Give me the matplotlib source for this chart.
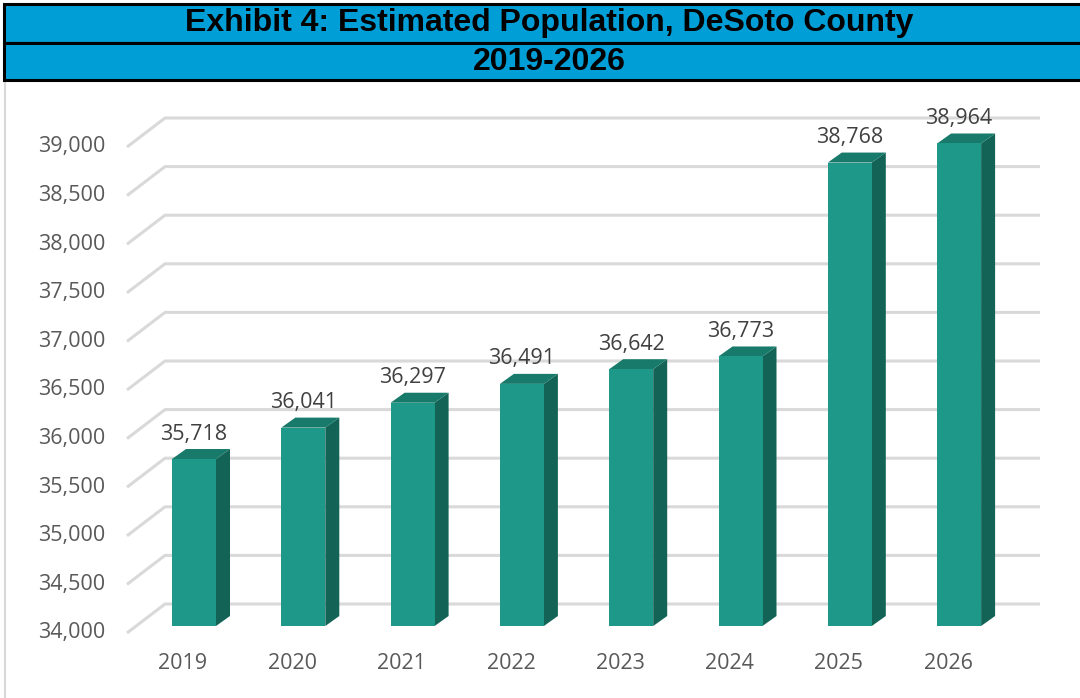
import matplotlib.pyplot as plt
from matplotlib.patches import Polygon, Rectangle

years = ['2019', '2020', '2021', '2022', '2023', '2024', '2025', '2026']
population = [35718, 36041, 36297, 36491, 36642, 36773, 38768, 38964]
y_ticks = [34000, 34500, 35000, 35500, 36000, 36500, 37000, 37500, 38000, 38500, 39000]

title_line1 = 'Exhibit 4: Estimated Population, DeSoto County'
title_line2 = '2019-2026'

FRONT = '#1e9888'
TOP = '#187a6a'
SIDE = '#136457'
GRID = '#d9d9d9'
BLUE = '#009ed6'

W, H = 1080, 698
fig = plt.figure(figsize=(W / 100, H / 100), dpi=100)

# pixel geometry of the plotting plane (bar fronts)
px_per_cat = 109.3
px_per_val = 486 / 5000
x0_px = 194          # centre of first bar
base_px = 626        # y of 34,000 on the bar front plane
ax_l, ax_r, ax_t, ax_b = 100, 1060, 95, 690

ax = fig.add_axes([ax_l / W, 1 - ax_b / H, (ax_r - ax_l) / W, (ax_b - ax_t) / H])
ax.set_xlim((ax_l - x0_px) / px_per_cat, (ax_r - x0_px) / px_per_cat)
ax.set_ylim(34000 - (ax_b - base_px) / px_per_val, 34000 + (base_px - ax_t) / px_per_val)
ax.axis('off')


def dx(px):
    return px / px_per_cat


def dy(px):
    # positive px = upward on screen
    return px / px_per_val


# gridlines: short oblique on the side wall, then along the back wall
x_front = dx(127 - x0_px)
x_back = dx(165 - x0_px)
x_end = dx(1040 - x0_px)
for v in y_ticks:
    ax.plot([x_front, x_back, x_end], [v - dy(7), v + dy(22), v + dy(22)],
            color=GRID, lw=2.2, solid_capstyle='butt', zorder=1)
    ax.text(x_front - dx(22), v - dy(7), f'{v:,}', ha='right', va='center',
            fontsize=15.5, color='#595959', family=['Open Sans', 'DejaVu Sans'])

# 3D-ish bars
half = dx(22)
ddx, ddy = dx(14), dy(10)
base = 34000
for i, v in enumerate(population):
    xl, xr = i - half, i + half
    ax.add_patch(Polygon([(xr, base), (xr, v), (xr + ddx, v + ddy), (xr + ddx, base + ddy)],
                         closed=True, facecolor=SIDE, edgecolor='none', zorder=3))
    ax.add_patch(Polygon([(xl, v), (xr, v), (xr + ddx, v + ddy), (xl + ddx, v + ddy)],
                         closed=True, facecolor=TOP, edgecolor='none', zorder=3))
    ax.add_patch(Rectangle((xl, base), 2 * half, v - base,
                           facecolor=FRONT, edgecolor='none', zorder=4))
    ax.text(i, v + dy(25), f'{v:,}', ha='center', va='center', fontsize=15.5,
            color='#404040', family=['Open Sans', 'DejaVu Sans'], zorder=5)
    ax.text(i - dx(11), base - dy(38), years[i], ha='center', va='center',
            fontsize=15.5, color='#595959', family=['Open Sans', 'DejaVu Sans'])

# chart area border
fig.patches.append(Rectangle((5 / W, -0.01), 1.1, 1 - 81 / H + 0.01,
                             transform=fig.transFigure, facecolor='none',
                             edgecolor=GRID, lw=1.5))

# title block
for top, bot, txt in [(4, 43, title_line1), (43, 80, title_line2)]:
    fig.patches.append(Rectangle((4 / W, 1 - bot / H), 1.1, (bot - top) / H,
                                 transform=fig.transFigure, facecolor=BLUE,
                                 edgecolor='black', lw=2.2, zorder=5))
    fig.text(549 / W, 1 - (top + bot) / 2 / H, txt, ha='center', va='center',
             fontsize=23, fontweight='bold', color='black', zorder=6,
             family=['Liberation Sans Narrow', 'Liberation Sans', 'DejaVu Sans'])

fig.savefig('out.png', dpi=100)
